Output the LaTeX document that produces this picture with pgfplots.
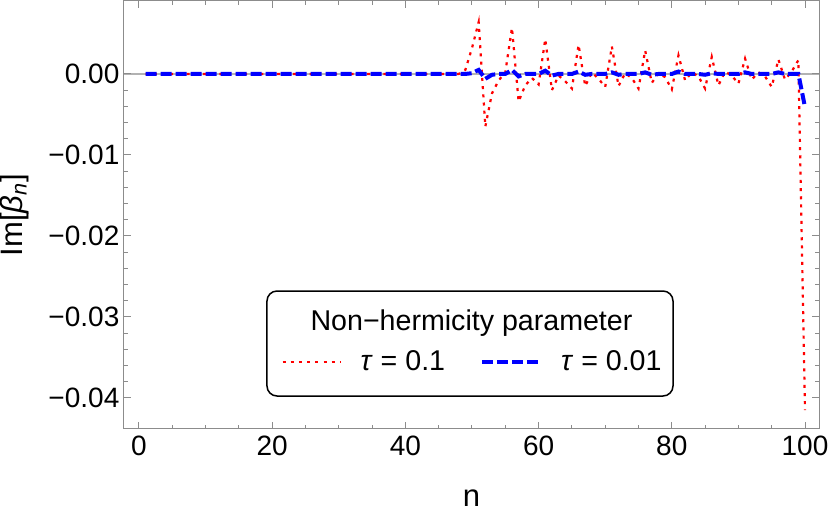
\documentclass[border=0pt]{standalone}
\usepackage{fontspec}
\setmainfont{Liberation Sans}
\usepackage{pgfplots}
\pgfplotsset{compat=1.18}

% 1 px of the reference = 0.5pt
\definecolor{framegray}{gray}{0.55}
\definecolor{zerogray}{gray}{0.7}

\begin{document}
\begin{tikzpicture}
\path[use as bounding box] (-62pt,-44pt) rectangle (353pt,214.5pt);
\begin{axis}[
  at={(0,0)}, anchor=south west,
  scale only axis,
  width=347.5pt, height=214pt,
  xmin=-2.25, xmax=102.1,
  ymin=-0.04383, ymax=0.00901,
  xtick={0,20,40,60,80,100},
  xticklabels={0,20,40,60,80,100},
  minor x tick num=3,
  ytick={-0.04,-0.03,-0.02,-0.01,0},
  yticklabels={−0.04,−0.03,−0.02,−0.01,0.00},
  minor y tick num=4,
  scaled y ticks=false,
  tick align=inside,
  major tick length=3.5pt,
  minor tick length=2pt,
  axis line style={framegray, line width=0.5pt},
  every tick/.style={framegray, line width=0.5pt},
  tick label style={font=\fontsize{14}{16}\selectfont, black},
  yticklabel style={xshift=1.2pt},
  extra y ticks={0},
  extra y tick labels={},
  extra y tick style={grid=major, major grid style={zerogray, line width=0.6pt}},
  xlabel={n},
  ylabel={Im[\textit{β}\textsubscript{\textit{n}}]},
  label style={font=\fontsize{15.5}{18}\selectfont},
  xlabel style={at={(axis description cs:0.5,-0.125)}, anchor=north},
  ylabel style={at={(axis description cs:-0.158,0.5)}, anchor=center},
  legend columns=2,
  legend style={name=leg, draw=none, fill=none,
    at={(0.5,0.1565)}, anchor=center,
    font=\fontsize{14.3}{16}\selectfont,
    nodes={inner sep=0pt},
    /tikz/every odd column/.append style={column sep=9.5pt},
    /tikz/every even column/.append style={column sep=17.5pt}},
  legend image code/.code={\draw[#1] (0pt,0pt) -- (29pt,0pt);},
]
% tau = 0.1
\addplot[red, line width=1.1pt, dash pattern=on 1.5pt off 2.6pt] coordinates {
(1,0) (2,0) (3,0) (4,0) (5,0) (6,0) (7,0) (8,0) (9,0) (10,0)
(11,0) (12,0) (13,0) (14,0) (15,0) (16,0) (17,0) (18,0) (19,0) (20,0)
(21,0) (22,0) (23,0) (24,0) (25,0) (26,0) (27,0) (28,0) (29,0) (30,0)
(31,0) (32,0) (33,0) (34,0) (35,0) (36,0) (37,0) (38,0) (39,0) (40,0)
(41,0) (42,0) (43,0) (44,0) (45,0) (46,0) (47,0) (48,0) (49,0.0005) (50,0.0032)
(51,0.0064) (52,-0.0065) (53,-0.0024) (54,-0.0008) (55,0.0002)
(56,0.0057) (57,-0.0034) (58,-0.0014) (59,-0.0005) (60,-0.0013)
(61,0.0043) (62,-0.0020) (63,-0.0002) (64,-0.0009) (65,-0.0018)
(66,0.0036) (67,-0.0015) (68,0.0002) (69,-0.0006) (70,-0.0016)
(71,0.0034) (72,-0.0015) (73,0.0001) (74,-0.0005) (75,-0.0018)
(76,0.0029) (77,-0.0011) (78,0.0001) (79,-0.0004) (80,-0.0019)
(81,0.0023) (82,-0.0008) (83,0.0002) (84,-0.0003) (85,-0.0018)
(86,0.0021) (87,-0.0014) (88,0.0003) (89,-0.0002) (90,-0.0012)
(91,0.0019) (92,-0.0007) (93,0.0002) (94,-0.0003) (95,-0.0016)
(96,0.0018) (97,-0.0007) (98,0.0003) (99,0.0017) (100,-0.0415)
};
\addlegendentry{\textit{τ} = 0.1}
% tau = 0.01
\addplot[blue, line width=2pt, dash pattern=on 5.5pt off 2pt] coordinates {
(1,0) (2,0) (3,0) (4,0) (5,0) (6,0) (7,0) (8,0) (9,0) (10,0)
(11,0) (12,0) (13,0) (14,0) (15,0) (16,0) (17,0) (18,0) (19,0) (20,0)
(21,0) (22,0) (23,0) (24,0) (25,0) (26,0) (27,0) (28,0) (29,0) (30,0)
(31,0) (32,0) (33,0) (34,0) (35,0) (36,0) (37,0) (38,0) (39,0) (40,0)
(41,0) (42,0) (43,0) (44,0) (45,0) (46,0) (47,0) (48,0) (49,0) (50,0.0001)
(51,0.0005) (52,-0.0006) (53,-0.0001) (54,0) (55,0)
(56,0.0005) (57,-0.0003) (58,0) (59,0) (60,0)
(61,0.0004) (62,-0.0002) (63,0) (64,0) (65,0)
(66,0.0003) (67,-0.0001) (68,0) (69,0) (70,0)
(71,0.0002) (72,-0.0001) (73,0) (74,0) (75,0)
(76,0.0002) (77,-0.0001) (78,0) (79,0) (80,0)
(81,0.0003) (82,0) (83,0) (84,0) (85,-0.0001)
(86,0.0001) (87,0) (88,0) (89,0) (90,0)
(91,0.0002) (92,0) (93,0) (94,0) (95,0)
(96,0.0002) (97,0) (98,0) (99,0) (100,-0.0041)
};
\addlegendentry{\textit{τ} = 0.01}
\end{axis}
\node[font=\fontsize{14.3}{16}\selectfont, anchor=base] at ([yshift=16pt]leg.center) {Non−hermicity parameter};
\node[draw=black, line width=0.75pt, rounded corners=5pt, minimum width=203pt, minimum height=52.5pt] at ([xshift=-0.75pt, yshift=9.25pt]leg.center) {};
\end{tikzpicture}
\end{document}
